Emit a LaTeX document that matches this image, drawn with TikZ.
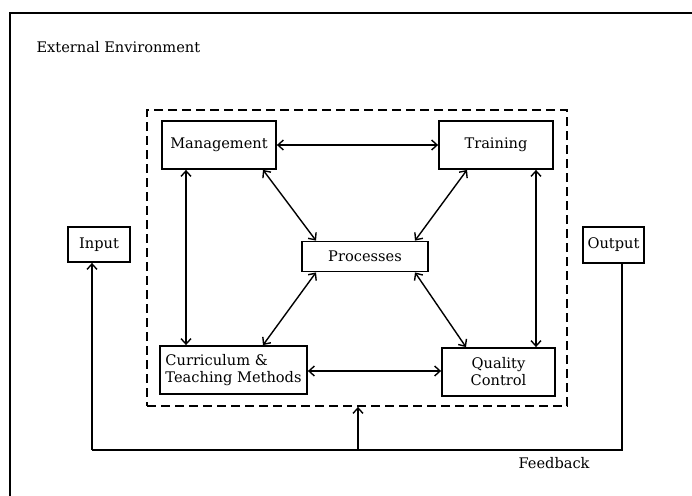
\documentclass[tikz,border=0pt]{standalone}
\usepackage{fontspec}
\setmainfont{DejaVu Serif}
\usetikzlibrary{arrows.meta}
\begin{document}
\begin{tikzpicture}[x=1pt,y=-1pt,
  font=\fontsize{14.6}{17}\selectfont,
  box/.style={draw,line width=1.8pt,inner sep=3pt,align=center},
  link/.style={line width=1.4pt,{Straight Barb[length=5.5pt,width=10pt]}-{Straight Barb[length=5.5pt,width=10pt]}},
  onearrow/.style={line width=1.4pt,-{Straight Barb[length=5.5pt,width=10pt]}},
  plain/.style={line width=1.4pt},
  sysbox/.style={draw,line width=1.8pt,dash pattern=on 9pt off 5pt}]
\useasboundingbox (0,0) rectangle (692,495);
\begin{scope}
\clip (0,0) rectangle (692,495);
\draw[line width=2.5pt] (10,520) -- (10,13) -- (720,13);
\end{scope}
\node[anchor=west] (env) at (33,47) {External Environment};

\node[sysbox,minimum width=420pt,minimum height=296pt] (sys) at (357,258) {};

\node[box,minimum width=114pt,minimum height=48pt] (man) at (219,145) {Management};
\node[box,minimum width=114pt,minimum height=48pt] (tra) at (496,145) {Training};
\node[box,minimum width=126pt,minimum height=30pt] (pro) at (365,256.5) {Processes};
\node[box,minimum width=147pt,minimum height=48pt,align=left] (cur) at (233.5,370) {Curriculum \&\\Teaching Methods};
\node[box,minimum width=113pt,minimum height=48pt] (qc) at (498.5,372) {Quality\\Control};
\node[box,minimum width=62pt,minimum height=35pt] (in) at (99,244.5) {Input};
\node[box,minimum width=61pt,minimum height=36pt,inner sep=1pt] (out) at (613.5,245) {Output};

\draw[link] (man.east) -- (tra.west |- man.east);
\draw[link] (cur.east |- 0,371) -- (qc.west |- 0,371);
\draw[link] (man.south -| 186,0) -- (cur.north -| 186,0);
\draw[link] (tra.south -| 536,0) -- (qc.north -| 536,0);
\draw[link] (man.south -| 263,0) -- (pro.north -| 316,0);
\draw[link] (tra.south -| 467,0) -- (pro.north -| 415,0);
\draw[link] (cur.north -| 263,0) -- (pro.south -| 316,0);
\draw[link] (qc.north -| 466,0) -- (pro.south -| 415,0);

\coordinate (fbl) at (92,450);
\coordinate (fbr) at (622,450);
\coordinate (fbm) at (358,450);
\draw[plain] (out.south -| fbr) -- (fbr) -- (fbl);
\draw[onearrow] (fbl) -- (in.south -| fbl);
\draw[onearrow] (fbm) -- (sys.south -| fbm);
\node[anchor=west] (fbtext) at (515,463) {Feedback};
\end{tikzpicture}
\end{document}
